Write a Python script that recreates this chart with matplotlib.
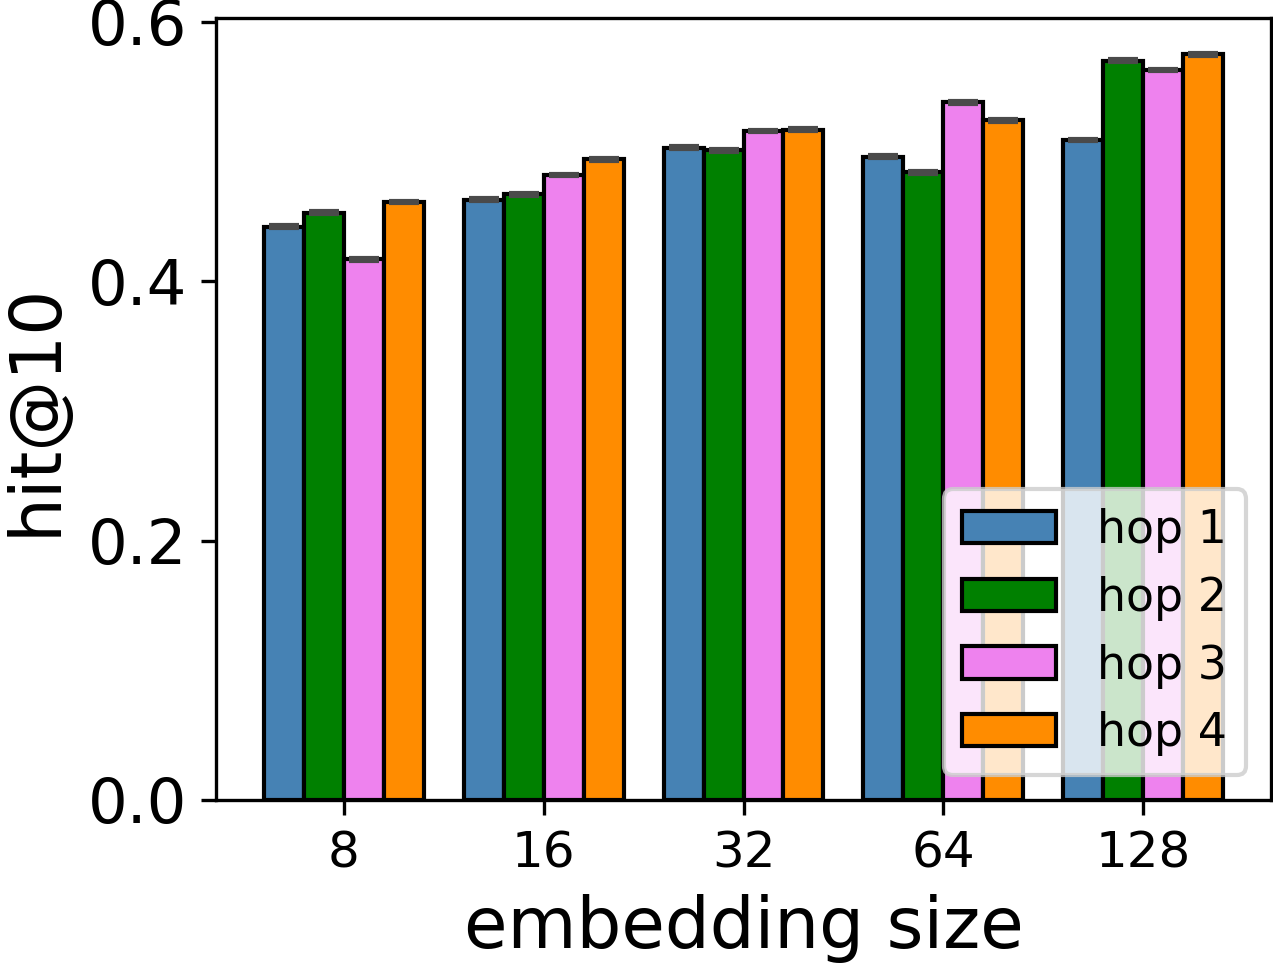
import matplotlib
matplotlib.use("Agg")
import matplotlib.pyplot as plt
import numpy as np

categories = ["8", "16", "32", "64", "128"]
series_names = ["hop 1", "hop 2", "hop 3", "hop 4"]
hop1 = [0.442, 0.463, 0.503, 0.496, 0.509]
hop2 = [0.453, 0.467, 0.501, 0.484, 0.570]
hop3 = [0.417, 0.482, 0.516, 0.538, 0.563]
hop4 = [0.461, 0.494, 0.517, 0.524, 0.575]
err1 = [0.001, 0.001, 0.001, 0.001, 0.001]
err2 = [0.001, 0.001, 0.001, 0.001, 0.001]
err3 = [0.001, 0.001, 0.001, 0.001, 0.001]
err4 = [0.001, 0.001, 0.001, 0.001, 0.001]
colors = ["steelblue", "green", "violet", "darkorange"]

fig = plt.figure(figsize=(1273 / 300, 967 / 300), dpi=300)
ax = fig.add_axes([216 / 1273, 1 - 800 / 967, (1271 - 216) / 1273, (800 - 18) / 967])

x = np.arange(len(categories))
width = 0.2
offsets = [-0.3, -0.1, 0.1, 0.3]
for vals, errs, name, c, off in zip([hop1, hop2, hop3, hop4], [err1, err2, err3, err4],
                                    series_names, colors, offsets):
    ax.bar(x + off, vals, width, yerr=errs, color=c, edgecolor="black", linewidth=1.0,
           label=name, capsize=3.5, error_kw=dict(ecolor="#4a4a4a", elinewidth=1.0, capthick=1.0))

ax.set_xticks(x)
ax.set_xticklabels(categories, fontsize=12)
ax.set_yticks([0.0, 0.2, 0.4, 0.6])
ax.tick_params(axis="y", labelsize=15)
ax.set_xlim(-0.64, 4.64)
ax.set_ylim(0, 0.603)
ax.set_xlabel("embedding size", fontsize=17)
ax.set_ylabel("hit@10", fontsize=17)
ax.legend(loc="lower right", fontsize=11, borderaxespad=0.55, handlelength=2.05,
          handletextpad=0.9)

fig.savefig("out.png", dpi=300)
